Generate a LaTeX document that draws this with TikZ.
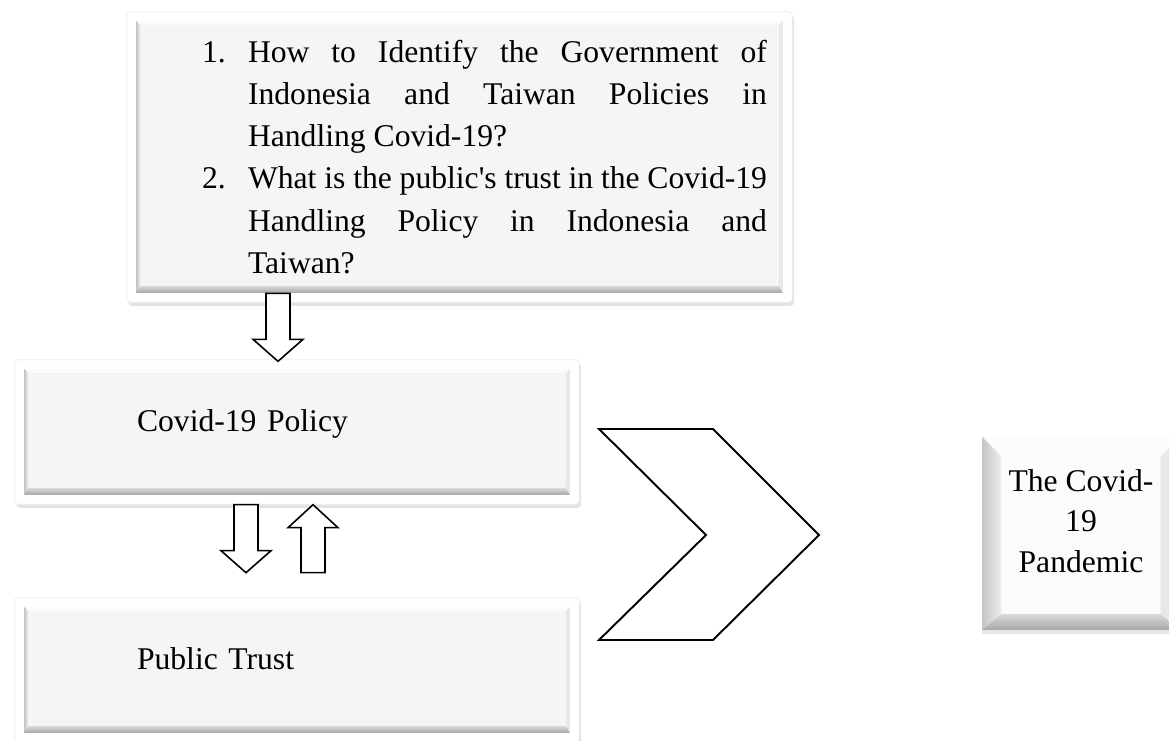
\documentclass[tikz,border=0pt]{standalone}
\usepackage{fontspec}
\setmainfont{Liberation Serif}
\usepackage{tikz}
\usetikzlibrary{%
	positioning,% wg. " of "
	backgrounds,
	fit,
	shadows,%
	calc
}
\definecolor{facegray}{HTML}{F5F5F5}
\definecolor{bevtop}{HTML}{FBFBFB}
\definecolor{bevsideout}{HTML}{C4C4C4}
\definecolor{bevsidein}{HTML}{EEEEEE}
\definecolor{bevright}{HTML}{E8E8E8}
\definecolor{bevbottomin}{HTML}{DADADA}
\definecolor{bevbottomout}{HTML}{A6A6A6}
\tikzset{bevel/.style 2 args={path picture={
	\path (path picture bounding box.south west) coordinate (bsw)
	      (path picture bounding box.north east) coordinate (bne)
	      (bsw |- bne) coordinate (bnw)
	      (bsw -| bne) coordinate (bse);
	\fill[bevtop] (bnw) -- (bne) -- ([shift={(-#1,-#1)}]bne) -- ([shift={(#1,-#1)}]bnw) -- cycle;
	\shade[left color=bevsideout, right color=bevsidein] (bnw) -- (bsw) -- ([shift={(#1,#2)}]bsw) -- ([shift={(#1,-#1)}]bnw) -- cycle;
	\fill[bevright] (bne) -- (bse) -- ([shift={(-#1,#2)}]bse) -- ([shift={(-#1,-#1)}]bne) -- cycle;
	\shade[top color=bevbottomin, bottom color=bevbottomout] (bsw) -- (bse) -- ([shift={(-#1,#2)}]bse) -- ([shift={(#1,#2)}]bsw) -- cycle;
}}}
\tikzstyle{face} = [rectangle, fill=facegray, inner sep=0pt, font=\fontsize{18}{24}\selectfont]
\tikzstyle{thinbox} = [face, bevel={2.3pt}{4pt}, minimum width=10.92cm, minimum height=2.52cm, text width=6.4cm, align=left, text height=0.44cm, text depth=0.48cm]
\tikzstyle{frame} = [fill=white, draw=gray!15, line width=0.4pt, rounded corners=2pt, inner sep=0.18cm, drop shadow={shadow xshift=1pt, shadow yshift=-2pt, opacity=0.22, fill=gray}]
\tikzstyle{blockarrow} = [draw, fill=white, line width=0.9pt, line join=miter]
\tikzstyle{chevron} = [draw, fill=white, line width=1.1pt, line join=miter]

\begin{document}
\begin{tikzpicture}[x=0.02cm, y=-0.02cm]
	\useasboundingbox (0,0) rectangle (1169,740);
	
	% the boxes
	\node[face, bevel={2.3pt}{4pt}, minimum width=12.94cm, minimum height=5.44cm, text width=12.3cm, align=justify] (questions) at (459.5,157) {%
		\setlength{\leftskip}{1cm}%
		\noindent\hangindent=0.92cm\hangafter=1\makebox[0.92cm][l]{1.}How to Identify the Government of\linebreak Indonesia and Taiwan Policies in\linebreak Handling Covid-19?\par
		\noindent\hangindent=0.92cm\hangafter=1\makebox[0.92cm][l]{2.}What is the public\textquotesingle s trust in the Covid-19\linebreak Handling Policy in Indonesia and\linebreak Taiwan?\par};
	\node[thinbox] (policy) at (297,432) {Covid-19 Policy};
	\node[thinbox] (trust) at (297,670) {Public Trust};
	\node[face, bevel={11pt}{9pt}, fill=white!97!gray, minimum width=3.96cm, minimum height=3.86cm, align=center, font=\fontsize{18}{22.8}\selectfont, text depth=0.5cm, drop shadow={shadow xshift=0pt, shadow yshift=-2pt, opacity=0.2, fill=gray}] (pandemic) at (1081,533.5) {The Covid-\\19\\Pandemic};
	
	% white frames behind the boxes
	\begin{scope}[on background layer]
		\node[frame, fit=(questions)] (questionsframe) {};
		\node[frame, fit=(policy)] (policyframe) {};
		\node[frame, fit=(trust)] (trustframe) {};
	\end{scope}
	
	% down arrows
	\foreach \tail in {{(278,0 |- questions.south)}, {(246,0 |- policyframe.south)}}
	\draw[blockarrow] \tail ++(-12,0) -- ++(0,46) -- ++(-13,0) -- ++(25,22) -- ++(25,-22) -- ++(-13,0) -- ++(0,-46) -- cycle;
	
	% up arrow
	\draw[blockarrow] (313,0 |- policyframe.south) -- ++(25,23) -- ++(-13,0) -- ++(0,45) -- ++(-24,0) -- ++(0,-45) -- ++(-13,0) -- cycle;
	
	% chevron
	\draw[chevron] (599,429) -- (713,429) -- (819,535) -- (713,640) -- (599,640) -- (706,535) -- cycle;
	
\end{tikzpicture}
\end{document}
